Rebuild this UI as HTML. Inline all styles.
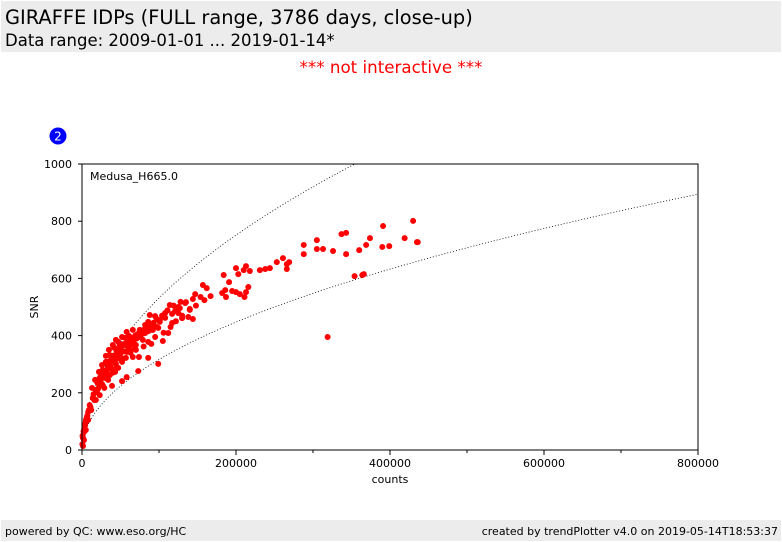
<!DOCTYPE html>
<html><head><meta charset="utf-8"><style>
body{margin:0;width:782px;height:542px;background:#fff;font-family:"DejaVu Sans","Liberation Sans",sans-serif;position:relative;overflow:hidden}
.hdr{position:absolute;left:1px;top:1px;width:780px;height:51px;background:#ececec}
.t1{position:absolute;left:4px;top:5px;font-size:19.4px;color:#000}
.t2{position:absolute;left:4px;top:30px;font-size:16.5px;color:#000}
.ni{position:absolute;left:0;width:782px;top:57px;text-align:center;color:#f00;font-size:16.7px}
.ftr{position:absolute;left:1px;top:520px;width:780px;height:21px;background:#ececec;font-size:11px}
</style></head><body>
<div class="hdr">
<div class="t1">GIRAFFE IDPs (FULL range, 3786 days, close-up)</div>
<div class="t2">Data range: 2009-01-01 ... 2019-01-14*</div></div>
<div class="ni">*** not interactive ***</div>
<svg id="chart" width="782" height="542" style="position:absolute;left:0;top:0" font-family="DejaVu Sans, Liberation Sans, sans-serif"></svg>
<div class="ftr"><span style="position:absolute;left:4px;top:5px">powered by QC: www.eso.org/HC</span><span style="position:absolute;right:3px;top:5px">created by trendPlotter v4.0 on 2019-05-14T18:53:37</span></div>
<script>
const counts=[288e3,288e3,305e3,305e3,313e3,326e3,337e3,343e3,343e3,354e3,360e3,364e3,366e3,369e3,374e3,391e3,390e3,399e3,419e3,430e3,435e3,436e3,319e3,
184e3,200e3,203e3,210e3,213e3,218e3,231e3,238e3,244e3,253e3,261e3,266e3,266e3,269e3,
182e3,187e3,191e3,195e3,200e3,205e3,213e3,216e3,211e3,186e3,
157e3,162e3,167e3,154e3,159e3,144e3,147e3,127e3,134e3,140e3,130e3,138e3,144e3,125e3,114e3,121e3,108e3,117e3,99e3,101e3,95e3,88e3,86e3,91e3,82e3,75e3,99e3,90e3,86e3,73e3,58e3,52e3,60e3,62e3,70e3,74e3,66e3,58e3,79e3,105e3,112e3,
62e3,56e3,49e3,47e3,43e3,36e3,32e3,29e3,23e3,19e3,16e3,12e3,8e3,5e3,2.6e3,1.3e3,
23e3,27e3,31e3,36e3,42e3,47e3,52e3,58e3,66e3,71e3,49e3,39e3,34e3,29e3,23e3,18e3,14e3,10e3,8e3,5e3,4e3,2.6e3,1.3e3,13e3,17e3,22e3,26e3,31e3,35e3,40e3,44e3,56e3,61e3,68e3,75e3,82e3,91e3,101e3,108e3,117e3,125e3,135e3,36e3,43e3,34e3,29e3,47e3,52e3,57e3,23e3,18e3,39e3,0.5e3,0.8e3,
20e3,25e3,28e3,33e3,38e3,41e3,45e3,48e3,51e3,54e3,59e3,64e3,69e3,72e3,77e3,80e3,84e3,88e3,93e3,97e3,104e3,111e3,119e3,128e3,
21e3,24e3,30e3,33e3,37e3,41e3,46e3,50e3,55e3,60e3,64e3,67e3,71e3,76e3,81e3,86e3,92e3,97e3,
11e3,15e3,9e3,7e3,6e3,3.5e3,2e3,1e3,3e3,4.5e3,6.5e3,15e3,20e3,26e3,32e3,38e3,44e3,50e3,62e3,68e3,
27e3,33e3,40e3,45e3,53e3,63e3,70e3,80e3,86e3,95e3,106e3,115e3,122e3,130e3,140e3,148e3];
const snr=[717,685,734,703,703,696,755,759,685,608,699,612,615,717,741,783,710,713,741,801,727,727,395,
612,636,615,629,643,626,629,633,636,657,671,650,633,657,
549,535,587,556,552,545,552,570,535,559,
577,566,538,535,524,528,545,496,514,493,461,465,458,479,507,486,479,444,427,454,468,472,448,420,437,420,301,371,322,276,255,241,388,367,367,325,325,343,385,381,409,
385,367,350,329,315,297,273,252,227,203,175,140,105,70,35,14,
252,280,308,332,357,378,395,413,420,402,367,325,308,273,245,210,182,157,133,105,87,63,42,217,245,273,297,329,350,367,385,392,399,392,395,409,427,448,462,476,500,517,262,273,245,217,287,308,322,192,175,224,20,50,
235,262,276,300,318,330,345,352,362,370,380,392,400,405,414,420,425,432,445,458,470,488,505,518,
215,240,255,282,295,312,325,338,345,360,372,375,390,398,408,415,420,430,
150,180,140,120,110,85,65,45,75,95,115,195,210,230,260,285,302,318,348,355,
225,250,270,290,320,340,350,362,378,395,410,430,450,470,490,505];
const yTicks=[0,200,400,600,800,1000];
const xTicks=[0,200000,400000,600000,800000];
const curveK=[1.0,1.68];
const L=82,R=698,T=164,B=450;
const sx=v=>L+v/800000*(R-L), sy=v=>B-v/1000*(B-T);
const svg=document.getElementById('chart'),NS='http://www.w3.org/2000/svg';
function mk(t,a,p){const e=document.createElementNS(NS,t);for(const k in a)e.setAttribute(k,a[k]);(p||svg).appendChild(e);return e;}
const cp=mk('clipPath',{id:'cp'});mk('rect',{x:L,y:T,width:R-L,height:B-T},cp);
curveK.forEach(k=>{let d='';for(let i=0;i<=400;i++){const c=800000*Math.pow(i/400,2);d+=(i?'L':'M')+sx(c).toFixed(2)+','+sy(k*Math.sqrt(c)).toFixed(2);}
const p=mk('path',{d:d,fill:'none',stroke:'#000','stroke-width':0.8,'stroke-dasharray':'1,2','clip-path':'url(#cp)'});

});
counts.forEach((c,i)=>{const e=mk('circle',{cx:sx(c),cy:sy(snr[i]),r:3,fill:'#f00'});

});
const fr=mk('rect',{x:L,y:T,width:R-L,height:B-T,fill:'none',stroke:'#000','stroke-width':1});


yTicks.forEach(v=>{mk('line',{x1:L-4,x2:L,y1:sy(v),y2:sy(v),stroke:'#000'});
const t=mk('text',{x:L-10,y:sy(v)+4,'text-anchor':'end','font-size':11});t.textContent=v;

});
xTicks.forEach((v,i)=>{mk('line',{x1:sx(v),x2:sx(v),y1:B,y2:B+5,stroke:'#000'});
if(i<xTicks.length-1){const m=v+100000;mk('line',{x1:sx(m),x2:sx(m),y1:B,y2:B+3,stroke:'#000'});}
const t=mk('text',{x:sx(v),y:B+17,'text-anchor':'middle','font-size':11});t.textContent=v;

});
let t=mk('text',{x:390,y:483,'text-anchor':'middle','font-size':11});t.textContent='counts';


t=mk('text',{x:38,y:307,'text-anchor':'middle','font-size':11,transform:'rotate(-90 38 307)'});t.textContent='SNR';


t=mk('text',{x:90,y:180,'font-size':11});t.textContent='Medusa_H665.0';


const b=mk('circle',{cx:58,cy:136,r:8.5,fill:'#0000ff'});


t=mk('text',{x:58,y:140.5,'text-anchor':'middle','font-size':12,fill:'#fff'});t.textContent='2';


</script></body></html>
